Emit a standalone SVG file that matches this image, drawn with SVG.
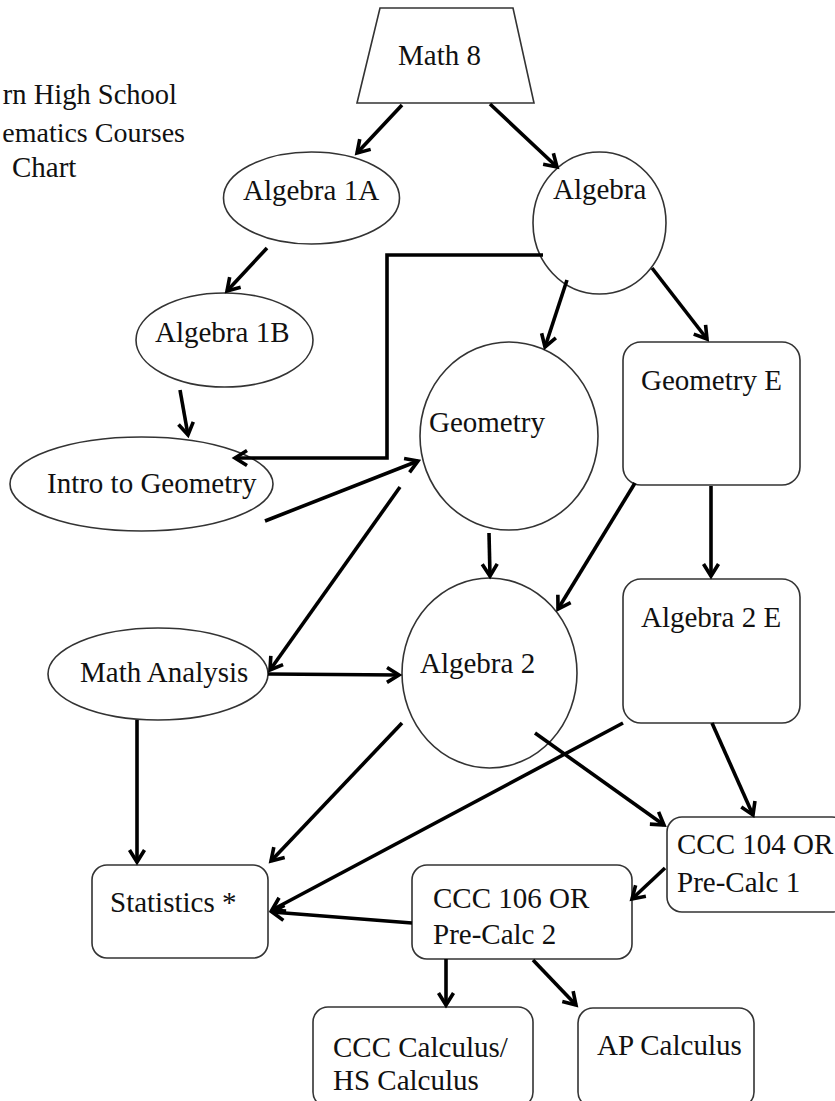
<svg xmlns="http://www.w3.org/2000/svg" width="835" height="1101" viewBox="0 0 835 1101">
<style>
.shape{fill:#fff;stroke:#333;stroke-width:1.6}
.t{font-family:'Liberation Serif','DejaVu Serif',serif;font-size:29px;fill:#111}
.c{fill:none;stroke:#000;stroke-width:3.6}
</style>
<defs>
<marker id="ah" markerUnits="userSpaceOnUse" viewBox="0 0 14 18" refX="13" refY="9" markerWidth="14" markerHeight="18" orient="auto" overflow="visible">
<path d="M1,1.5 L13,9 L1,16.5" fill="none" stroke="#000" stroke-width="3.6" stroke-linejoin="miter"/>
</marker>
</defs>
<rect width="835" height="1101" fill="#fff"/>
<g id="title">
<text class="t" x="177" y="104" text-anchor="end" style="font-size:28.5px">rn High School</text>
<text class="t" x="185" y="142" text-anchor="end" style="font-size:28px">ematics Courses</text>
<text class="t" x="12" y="177">Chart</text>
</g>
<g id="math8">
<polygon class="shape" points="380,8 513,8 534,103 357,103"/>
<text class="t" x="398" y="65">Math 8</text>
</g>
<g id="algebra1a">
<ellipse class="shape" cx="311.5" cy="198" rx="88" ry="46"/>
<text class="t" x="243" y="200">Algebra 1A</text>
</g>
<g id="algebra">
<ellipse class="shape" cx="599.5" cy="223" rx="66.5" ry="71"/>
<text class="t" x="553" y="199">Algebra</text>
</g>
<g id="algebra1b">
<ellipse class="shape" cx="224.5" cy="340" rx="88.5" ry="47"/>
<text class="t" x="155" y="342">Algebra 1B</text>
</g>
<g id="intro-geometry">
<ellipse class="shape" cx="141.5" cy="484" rx="131.5" ry="47"/>
<text class="t" x="47" y="493">Intro to Geometry</text>
</g>
<g id="geometry">
<ellipse class="shape" cx="509" cy="436" rx="89" ry="94"/>
<text class="t" x="429" y="432">Geometry</text>
</g>
<g id="geometry-e">
<rect class="shape" x="623" y="342" width="177" height="143" rx="18"/>
<text class="t" x="641" y="390">Geometry E</text>
</g>
<g id="math-analysis">
<ellipse class="shape" cx="158" cy="674" rx="110" ry="46"/>
<text class="t" x="80" y="682">Math Analysis</text>
</g>
<g id="algebra2">
<ellipse class="shape" cx="489.5" cy="673" rx="87.5" ry="95"/>
<text class="t" x="420" y="673">Algebra 2</text>
</g>
<g id="algebra2-e">
<rect class="shape" x="623" y="579" width="177" height="144" rx="18"/>
<text class="t" x="641" y="627">Algebra 2 E</text>
</g>
<g id="statistics">
<rect class="shape" x="92" y="865" width="176" height="93" rx="15"/>
<text class="t" x="110" y="912">Statistics *</text>
</g>
<g id="ccc104">
<rect class="shape" x="667" y="817" width="180" height="95" rx="15"/>
<text class="t" x="677" y="854">CCC 104 OR</text>
<text class="t" x="677" y="892">Pre-Calc 1</text>
</g>
<g id="ccc106">
<rect class="shape" x="412" y="865" width="220" height="94" rx="15"/>
<text class="t" x="433" y="908">CCC 106 OR</text>
<text class="t" x="433" y="944">Pre-Calc 2</text>
</g>
<g id="ccc-calculus">
<rect class="shape" x="313" y="1007" width="220" height="100" rx="15"/>
<text class="t" x="333" y="1057">CCC Calculus/</text>
<text class="t" x="333" y="1090">HS Calculus</text>
</g>
<g id="ap-calculus">
<rect class="shape" x="578" y="1008" width="176" height="99" rx="15"/>
<text class="t" x="597" y="1055">AP Calculus</text>
</g>
<g id="connectors">
<line class="c" x1="402" y1="105" x2="357" y2="153" marker-end="url(#ah)"/>
<line class="c" x1="490" y1="104" x2="557" y2="167" marker-end="url(#ah)"/>
<line class="c" x1="267" y1="248" x2="227" y2="291" marker-end="url(#ah)"/>
<polyline class="c" points="543,255 387,255 387,458 235,458" marker-end="url(#ah)"/>
<line class="c" x1="567" y1="280" x2="545" y2="347" marker-end="url(#ah)"/>
<line class="c" x1="652" y1="268" x2="707" y2="339" marker-end="url(#ah)"/>
<line class="c" x1="180" y1="390" x2="188" y2="435" marker-end="url(#ah)"/>
<line class="c" x1="265" y1="521" x2="418" y2="461" marker-end="url(#ah)"/>
<line class="c" x1="400" y1="487" x2="270" y2="670" marker-end="url(#ah)"/>
<line class="c" x1="268" y1="674" x2="399" y2="675" marker-end="url(#ah)"/>
<line class="c" x1="489" y1="533" x2="490" y2="576" marker-end="url(#ah)"/>
<line class="c" x1="635" y1="483" x2="558" y2="609" marker-end="url(#ah)"/>
<line class="c" x1="711" y1="486" x2="711" y2="576" marker-end="url(#ah)"/>
<line class="c" x1="137" y1="720" x2="137" y2="862" marker-end="url(#ah)"/>
<line class="c" x1="402" y1="723" x2="271" y2="861" marker-end="url(#ah)"/>
<line class="c" x1="623" y1="723" x2="272" y2="910" marker-end="url(#ah)"/>
<line class="c" x1="412" y1="923" x2="272" y2="912" marker-end="url(#ah)"/>
<line class="c" x1="535" y1="733" x2="664" y2="825" marker-end="url(#ah)"/>
<line class="c" x1="712" y1="723" x2="753" y2="815" marker-end="url(#ah)"/>
<line class="c" x1="665" y1="868" x2="632" y2="899" marker-end="url(#ah)"/>
<line class="c" x1="446" y1="959" x2="446" y2="1005" marker-end="url(#ah)"/>
<line class="c" x1="533" y1="960" x2="576" y2="1005" marker-end="url(#ah)"/>
</g>
</svg>
